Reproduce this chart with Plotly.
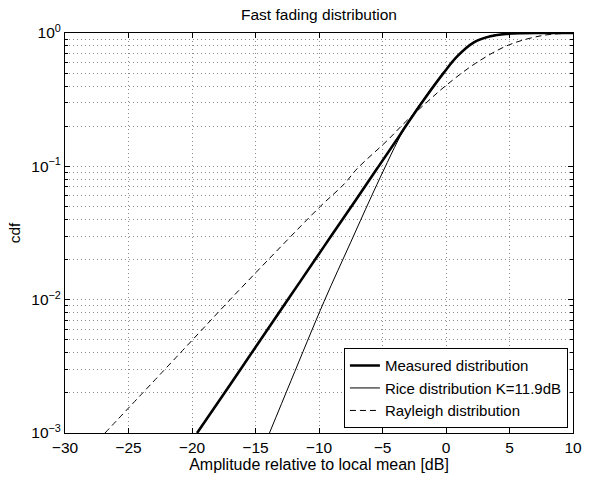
import plotly.graph_objects as go

# Amplitude relative to local mean [dB] and cumulative probability for each curve
meas_x = [-19.6, -17.0, -15.0, -12.3, -9.6, -7.1, -5.4, -4.0, -3.1, -1.7, -0.2,
          0.9, 2.2, 3.5, 4.8, 6.0, 7.5, 10.0]
meas_y = [0.001, 0.0023, 0.0044, 0.0105, 0.0251, 0.056, 0.097, 0.152, 0.205, 0.32,
          0.50, 0.67, 0.85, 0.945, 0.985, 0.997, 1.0, 1.0]

rice_x = [-13.9, -12.2, -9.6, -7.5, -6.0, -4.9, -3.8, -3.1, -2.4, -1.7, -0.2, 0.9,
          2.2, 3.5, 4.8, 6.0, 7.5, 10.0]
rice_y = [0.001, 0.00247, 0.0097, 0.027, 0.056, 0.094, 0.155, 0.205, 0.262, 0.325,
          0.505, 0.675, 0.855, 0.95, 0.988, 0.998, 1.0, 1.0]

rayl_x = [-26.85, -20.5, -17.0, -13.0, -9.9, -8.0, -7.0, -4.6, -3.2, -1.5, 0.0,
          2.3, 4.9, 7.6, 9.6, 10.0]
rayl_y = [0.001, 0.0044, 0.010, 0.025, 0.050, 0.074, 0.096, 0.157, 0.215, 0.303,
          0.404, 0.59, 0.81, 0.958, 0.995, 0.997]

x_ticks = [-30, -25, -20, -15, -10, -5, 0, 5, 10]
y_ticks = [1e-3, 1e-2, 1e-1, 1]
y_tick_text = ["10<sup>\u22123</sup>", "10<sup>\u22122</sup>", "10<sup>\u22121</sup>", "10<sup>0</sup>"]
y_minor = [m * 10 ** e for e in (-3, -2, -1) for m in range(2, 10)]

line_shape = dict(shape="spline", smoothing=1.0)

fig = go.Figure()
fig.add_trace(go.Scatter(x=meas_x, y=meas_y, mode="lines", name="Measured distribution",
                         line=dict(color="black", width=2.6, **line_shape)))
fig.add_trace(go.Scatter(x=rice_x, y=rice_y, mode="lines", name="Rice distribution K=11.9dB",
                         line=dict(color="black", width=1, **line_shape)))
fig.add_trace(go.Scatter(x=rayl_x, y=rayl_y, mode="lines", name="Rayleigh distribution",
                         line=dict(color="black", width=1, dash="6px,4px", **line_shape)))

font = "Liberation Sans, Arial, sans-serif"
grid = dict(showgrid=True, gridcolor="#8c8c8c", griddash="1px,3px", gridwidth=1)

fig.update_layout(
    width=595, height=480,
    margin=dict(l=65, r=22, t=33, b=47),
    paper_bgcolor="white", plot_bgcolor="white",
    font=dict(family=font, size=15.5, color="black"),
    title=dict(text="Fast fading distribution", x=0.5, xref="paper", y=1 - 15 / 480,
               yref="container", xanchor="center", yanchor="middle",
               font=dict(size=15.5, family=font, color="black")),
    showlegend=True,
    legend=dict(x=0.99, y=0.012, xanchor="right", yanchor="bottom",
                bgcolor="white", bordercolor="black", borderwidth=1,
                font=dict(size=15, family=font), itemwidth=30,
                tracegroupgap=0),
    xaxis=dict(range=[-30, 10], tickvals=x_ticks, ticks="inside", ticklen=5,
               tickcolor="black", showline=True, linecolor="black", linewidth=1,
               mirror="ticks", zeroline=False, **grid,
               title=dict(text="Amplitude relative to local mean [dB]", standoff=1,
                          font=dict(size=16)),
               tickfont=dict(size=15.5)),
    yaxis=dict(type="log", range=[-3, 0], tickvals=y_ticks, ticktext=y_tick_text,
               ticks="inside", ticklen=5, tickcolor="black", showline=True,
               linecolor="black", linewidth=1, mirror="ticks", zeroline=False, **grid,
               minor=dict(tickvals=y_minor, ticks="inside", ticklen=3, tickcolor="black",
                          **grid),
               title=dict(text="cdf", standoff=6, font=dict(size=15.5)),
               tickfont=dict(size=15.5)),
)

fig.write_html("out.html")
